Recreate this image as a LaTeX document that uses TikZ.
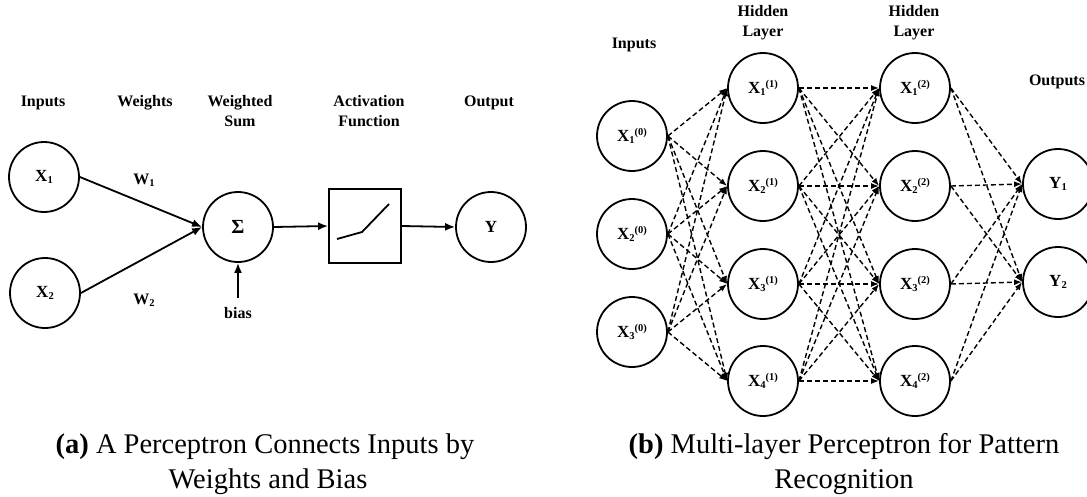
\documentclass[tikz,border=0pt]{standalone}
\usepackage{fontspec}
\setmainfont{Liberation Serif}
\usetikzlibrary{arrows.meta,calc}
\newcommand\nsub[1]{\raisebox{-0.3ex}{\fontsize{10.5}{10.5}\selectfont #1}}
\newcommand\nsup[1]{\raisebox{0.75ex}{\fontsize{10.5}{10.5}\selectfont #1}}
\begin{document}
\begin{tikzpicture}[x=1pt,y=-1pt,
  neuron/.style={circle,draw,line width=1.8pt,minimum size=70pt,inner sep=0pt,
    font=\fontsize{17}{19}\selectfont\bfseries},
  lbl/.style={font=\fontsize{16}{20}\selectfont\bfseries,align=center,inner sep=0pt},
  captext/.style={font=\fontsize{28.5}{33}\selectfont,anchor=base,inner sep=0pt},
  arr/.style={line width=1.8pt,-{Latex[length=10pt,width=8pt]}},
  darr/.style={line width=1.4pt,dash pattern=on 5pt off 3pt,-{Latex[length=8pt,width=6pt]}},
  actbox/.style={draw,line width=1.8pt,minimum width=72pt,minimum height=74pt,inner sep=0pt}
]
\useasboundingbox (0,0) rectangle (1087,496);

% ---------- panel (a) ----------
\node[lbl] (lInputsA) at (43,103) {Inputs};
\node[lbl] (lWeights) at (145,103) {Weights};
\node[lbl] (lWsum) at (240,111) {Weighted\\Sum};
\node[lbl] (lAct) at (369,111) {Activation\\Function};
\node[lbl] (lOut) at (489,103) {Output};

\node[neuron] (X1) at (44,177) {X\nsub{1}};
\node[neuron] (X2) at (45,293) {X\nsub{2}};
\node[neuron,font=\fontsize{20}{22}\selectfont\bfseries] (S) at (238,227) {Σ};
\node[actbox] (box) at (365,226) {};
\node[neuron] (Y) at (491,227) {Y};

\node[lbl] (w1) at (144,180) {W\nsub{1}};
\node[lbl] (w2) at (144,300) {W\nsub{2}};
\node[lbl] (bias) at (238,313) {bias};
\coordinate (bstart) at (238,298);

\draw[arr] (X1.east) -- (S.west);
\draw[arr] (X2.east) -- (S.west);
\draw[arr] (S.east) -- (box.west);
\draw[arr] (box.east) -- (Y.west);
\draw[arr] (bstart) -- (S.south);
\draw[line width=1.8pt] ($(box.center)+(-28,13)$) -- ($(box.center)+(-3,6)$) -- ($(box.center)+(24,-22)$);

\node[captext] (capA1) at (265,453) {\textbf{(a)} A Perceptron Connects Inputs by};
\node[captext] (capA2) at (268,488) {Weights and Bias};

% ---------- panel (b) ----------
\node[lbl] (lInputsB) at (634,45) {Inputs};
\node[lbl] (lHid1) at (763,23) {Hidden\\Layer};
\node[lbl] (lHid2) at (914,23) {Hidden\\Layer};
\node[lbl] (lOuts) at (1057,82) {Outputs};

\foreach \i/\yy in {1/136,2/234,3/332}
  \node[neuron] (a\i) at (632,\yy) {X\nsub{\i}\nsup{(0)}};
\foreach \i/\yy in {1/88,2/186,3/284,4/381}{
  \node[neuron] (b\i) at (763,\yy) {X\nsub{\i}\nsup{(1)}};
  \node[neuron] (c\i) at (915,\yy) {X\nsub{\i}\nsup{(2)}};
}
\node[neuron] (y1) at (1058,184) {Y\nsub{1}};
\node[neuron] (y2) at (1058,282) {Y\nsub{2}};

\foreach \i in {1,2,3}
  \foreach \j in {1,2,3,4}
    \draw[darr] (a\i.east) -- (b\j.west);
\foreach \i in {1,2,3,4}
  \foreach \j in {1,2,3,4}
    \draw[darr] (b\i.east) -- (c\j.west);
\foreach \i in {1,2,3,4}
  \foreach \j in {1,2}
    \draw[darr] (c\i.east) -- (y\j.west);

\node[captext] (capB1) at (844,453) {\textbf{(b)} Multi-layer Perceptron for Pattern};
\node[captext] (capB2) at (844,488) {Recognition};
\end{tikzpicture}
\end{document}
